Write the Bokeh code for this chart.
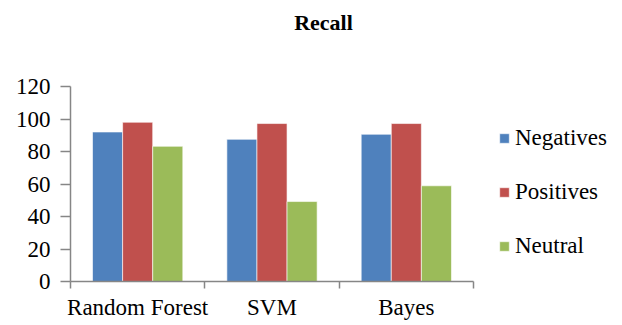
from bokeh.plotting import figure
from bokeh.models import (ColumnDataSource, Range1d, FixedTicker, LinearAxis, Legend, LegendItem, Label)
from bokeh.transform import dodge
from bokeh.embed import file_html
from bokeh.resources import INLINE

categories = ["Random Forest", "SVM", "Bayes"]
negatives = [92, 87.5, 90.6]
positives = [98, 97.2, 97.2]
neutral = [83.2, 49.2, 58.9]
series_names = ["Negatives", "Positives", "Neutral"]
colors = ["#4F81BD", "#C0504D", "#9BBB59"]
y_ticks = [0, 20, 40, 60, 80, 100, 120]

FONT = "Liberation Serif"
FS = "23px"
AXIS_COLOR = "#868686"

n = len(categories)
y_top = max(y_ticks)
centers = [i + 0.5 for i in range(n)]
source = ColumnDataSource(dict(x=centers, Negatives=negatives, Positives=positives, Neutral=neutral))

# frame spans x 70..612 px and y 0..281 px; the axis region covers 403 x 195 px of it
x_max = n * 542 / 403
y_max = y_top * 281 / 195

p = figure(width=622, height=325, output_backend="svg", toolbar_location=None,
           x_range=Range1d(0, x_max), y_range=Range1d(0, y_max),
           x_axis_type=None, y_axis_type=None,
           min_border_left=70, min_border_right=10, min_border_top=0, min_border_bottom=44)
p.outline_line_color = None
p.xgrid.visible = False
p.ygrid.visible = False
p.background_fill_color = "white"

bw = 0.224
offsets = [-bw, 0, bw]
renderers = []
for name, color, off in zip(series_names, colors, offsets):
    r = p.vbar(x=dodge("x", off, range=p.x_range), top=name, width=bw, bottom=0,
               source=source, fill_color=color, line_color="white", line_width=0.6)
    renderers.append(r)

# y axis
yaxis = LinearAxis(ticker=FixedTicker(ticks=y_ticks), bounds=(0, y_top))
yaxis.axis_line_color = AXIS_COLOR
yaxis.axis_line_width = 1.5
yaxis.major_tick_line_color = AXIS_COLOR
yaxis.major_tick_line_width = 1.5
yaxis.major_tick_out = 10
yaxis.major_tick_in = 0
yaxis.minor_tick_line_color = None
yaxis.major_label_text_font = FONT
yaxis.major_label_text_font_size = FS
yaxis.major_label_text_color = "black"
yaxis.major_label_standoff = 10
p.add_layout(yaxis, "left")

# x axis with boundary ticks (no labels)
xaxis = LinearAxis(ticker=FixedTicker(ticks=list(range(n + 1))), bounds=(0, n))
xaxis.axis_line_color = AXIS_COLOR
xaxis.axis_line_width = 1.5
xaxis.major_tick_line_color = AXIS_COLOR
xaxis.major_tick_line_width = 1.5
xaxis.major_tick_out = 7
xaxis.major_tick_in = 0
xaxis.minor_tick_line_color = None
xaxis.major_label_text_font_size = "0px"
xaxis.major_label_text_color = None
p.add_layout(xaxis, "below")

# category labels at centers
lab_axis = LinearAxis(ticker=FixedTicker(ticks=centers),
                      major_label_overrides={c: s for c, s in zip(centers, categories)})
lab_axis.axis_line_color = None
lab_axis.major_tick_line_color = None
lab_axis.minor_tick_line_color = None
lab_axis.major_label_text_font = FONT
lab_axis.major_label_text_font_size = FS
lab_axis.major_label_text_color = "black"
lab_axis.major_label_standoff = 0
p.add_layout(lab_axis, "below")

legend = Legend(items=[LegendItem(label=s, renderers=[r]) for s, r in zip(series_names, renderers)],
                location=(428, 8), orientation="vertical")
legend.glyph_width = 12
legend.glyph_height = 12
legend.label_height = 54
legend.spacing = 0
legend.padding = 0
legend.margin = 0
legend.label_standoff = 5
legend.label_text_font = FONT
legend.label_text_font_size = FS
legend.label_text_color = "black"
legend.border_line_color = None
legend.background_fill_alpha = 0
p.add_layout(legend, "center")

title = Label(x=253, y=259, x_units="screen", y_units="screen", text="Recall",
              text_font=FONT, text_font_size="22px", text_font_style="bold",
              text_color="black", text_align="center", text_baseline="middle")
p.add_layout(title, "center")

open("out.html", "w").write(file_html(p, INLINE))
